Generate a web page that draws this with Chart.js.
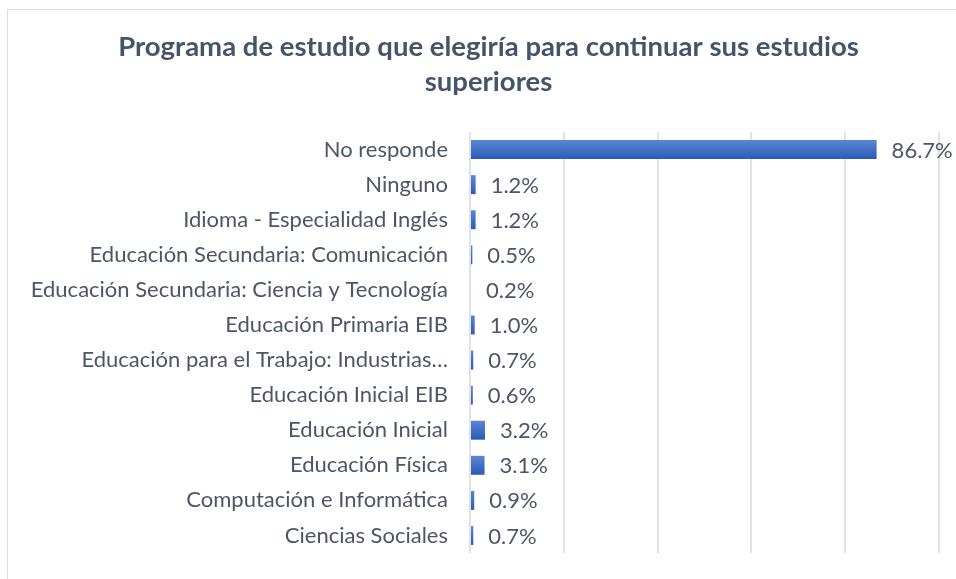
<!DOCTYPE html>
<html>
<head>
<meta charset="utf-8">
<script src="https://cdn.jsdelivr.net/npm/chart.js@4.4.0/dist/chart.umd.min.js"></script>
<style>
  html, body { margin: 0; padding: 0; background: #fff; overflow: hidden; }
  #box { position: absolute; left: 7px; top: 9px; width: 1000px; height: 600px; border: 1px solid #d9dde3; }
  #myChart { position: absolute; left: 0; top: 0; }
</style>
</head>
<body>
<div id="box"><canvas id="myChart" width="961" height="569"></canvas></div>
<script>
const titleLines = ["Programa de estudio que elegiría para continuar sus estudios", "superiores"];
const categories = [
  "No responde",
  "Ninguno",
  "Idioma - Especialidad Inglés",
  "Educación Secundaria: Comunicación",
  "Educación Secundaria: Ciencia y Tecnología",
  "Educación Primaria EIB",
  "Educación para el Trabajo: Industrias…",
  "Educación Inicial EIB",
  "Educación Inicial",
  "Educación Física",
  "Computación e Informática",
  "Ciencias Sociales"
];
const values = [86.7, 1.2, 1.2, 0.5, 0.2, 1.0, 0.7, 0.6, 3.2, 3.1, 0.9, 0.7];
const axisMax = 100;
const axisStep = 20;

const textColor = '#4d5666';
const fontFamily = 'Lato, "Open Sans", sans-serif';
const barPct = 0.54;

// vertical gradient inside each bar, like the Excel fill
const barFill = (c) => {
  const chart = c.chart;
  const area = chart.chartArea;
  if (!area || c.dataIndex === undefined) return '#4472c4';
  const band = (area.bottom - area.top) / categories.length;
  const cy = chart.scales.y.getPixelForValue(c.dataIndex);
  const h = band * barPct;
  const g = chart.ctx.createLinearGradient(0, cy - h / 2, 0, cy + h / 2);
  g.addColorStop(0, '#5d86d3');
  g.addColorStop(1, '#2a5ab8');
  return g;
};

// title drawn by hand so it can be centred on the whole chart box
const chartTitle = {
  id: 'chartTitle',
  afterDraw(chart) {
    const ctx = chart.ctx;
    ctx.save();
    ctx.font = 'bold 27.5px ' + fontFamily;
    ctx.fillStyle = '#44546a';
    ctx.textAlign = 'center';
    ctx.textBaseline = 'middle';
    titleLines.forEach((line, i) => ctx.fillText(line, 480.5, 37 + i * 35));
    ctx.restore();
  }
};

const valueLabels = {
  id: 'valueLabels',
  afterDatasetsDraw(chart) {
    const ctx = chart.ctx;
    ctx.save();
    ctx.font = '22px ' + fontFamily;
    ctx.fillStyle = textColor;
    ctx.textAlign = 'left';
    ctx.textBaseline = 'middle';
    chart.getDatasetMeta(0).data.forEach((bar, i) => {
      ctx.fillText(values[i].toFixed(1) + '%', bar.x + 15, bar.y + 1);
    });
    ctx.restore();
  }
};

const ctx = document.getElementById('myChart').getContext('2d');
const myChart = new Chart(ctx, {
  type: 'bar',
  data: {
    labels: categories,
    datasets: [{
      data: values,
      backgroundColor: barFill,
      borderWidth: 0,
      barPercentage: barPct,
      categoryPercentage: 1
    }]
  },
  options: {
    indexAxis: 'y',
    responsive: false,
    animation: false,
    layout: { padding: { left: 0, right: 30, top: 122, bottom: 26 } },
    plugins: {
      legend: { display: false },
      tooltip: { enabled: false },
      title: { display: false }
    },
    scales: {
      x: {
        min: 0,
        max: axisMax,
        afterFit: (scale) => { scale.height = 0; },
        ticks: { display: false, stepSize: axisStep },
        grid: { color: '#dfe3e9', lineWidth: 2, drawTicks: false },
        border: { display: false }
      },
      y: {
        afterFit: (scale) => {
          scale.width = 462;
          scale.paddingTop = 0;
          scale.paddingBottom = 0;
        },
        ticks: {
          color: textColor,
          padding: 22,
          autoSkip: false,
          font: { family: fontFamily, size: 22 }
        },
        grid: { display: false, drawTicks: false },
        border: { display: false }
      }
    }
  },
  plugins: [chartTitle, valueLabels]
});
</script>
</body>
</html>
